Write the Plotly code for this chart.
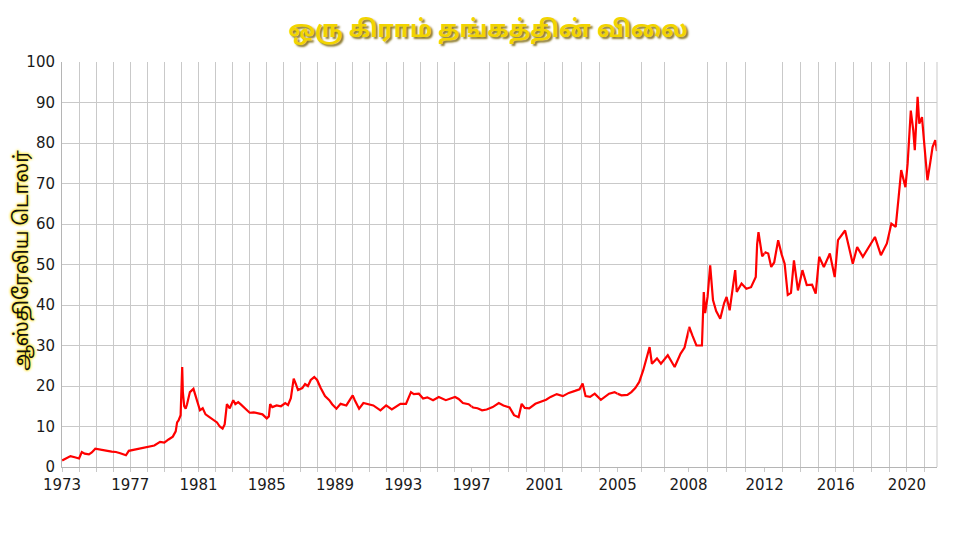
import plotly.graph_objects as go
import pandas as pd

# ---------------- data ----------------
dates = [
    "1973-01-05", "1973-04-01", "1973-07-01", "1973-10-01", "1974-01-01", "1974-03-01", "1974-05-01",
    "1974-08-01", "1974-10-01", "1974-12-15", "1975-03-01", "1975-06-01", "1975-09-01", "1975-12-01",
    "1976-03-01", "1976-06-01", "1976-08-01", "1976-10-01", "1976-12-01", "1977-03-01", "1977-07-01",
    "1977-11-01", "1978-03-01", "1978-06-01", "1978-10-01", "1979-01-01", "1979-04-01", "1979-07-01",
    "1979-09-01", "1979-10-01", "1979-11-01", "1979-12-15", "1980-01-18", "1980-02-01", "1980-03-01",
    "1980-04-01", "1980-05-01", "1980-06-01", "1980-07-01", "1980-09-15", "1980-10-15", "1980-12-01",
    "1981-02-01", "1981-04-01", "1981-06-01", "1981-08-01", "1981-10-01", "1981-12-01", "1982-02-01",
    "1982-04-01", "1982-06-01", "1982-07-15", "1982-09-01", "1982-11-01", "1983-01-15", "1983-03-01",
    "1983-05-01", "1983-07-01", "1983-10-01", "1984-01-01", "1984-04-01", "1984-07-01", "1984-10-01",
    "1985-01-01", "1985-02-15", "1985-03-15", "1985-05-01", "1985-08-01", "1985-11-01", "1986-02-01",
    "1986-04-01", "1986-06-01", "1986-08-01", "1986-09-15", "1986-11-01", "1987-02-01", "1987-04-01",
    "1987-06-01", "1987-08-01", "1987-10-15", "1987-12-15", "1988-03-01", "1988-06-01", "1988-09-01",
    "1988-11-01", "1989-02-01", "1989-05-01", "1989-09-01", "1990-01-15", "1990-03-01", "1990-06-01",
    "1990-09-01", "1990-12-01", "1991-04-01", "1991-09-01", "1992-01-01", "1992-05-01", "1992-11-01",
    "1993-03-01", "1993-06-15", "1993-08-15", "1993-12-01", "1994-03-01", "1994-06-01", "1994-10-01",
    "1995-02-01", "1995-07-01", "1996-01-15", "1996-04-01", "1996-07-01", "1996-11-01", "1997-02-01",
    "1997-05-01", "1997-08-01", "1997-11-01", "1998-03-01", "1998-07-01", "1998-10-01", "1999-02-01",
    "1999-05-01", "1999-08-01", "1999-10-01", "1999-12-01", "2000-03-01", "2000-07-01", "2000-11-01",
    "2001-02-01", "2001-05-01", "2001-09-01", "2002-01-01", "2002-05-01", "2002-09-01", "2002-12-01",
    "2003-02-01", "2003-04-01", "2003-07-01", "2003-10-01", "2004-02-01", "2004-05-01", "2004-07-15",
    "2004-11-01", "2005-03-01", "2005-06-01", "2005-08-01", "2005-10-01", "2005-12-01", "2006-02-01",
    "2006-04-01", "2006-05-10", "2006-06-15", "2006-09-01", "2006-11-01", "2007-02-15", "2007-06-01",
    "2007-09-01", "2007-11-01", "2008-01-15", "2008-03-15", "2008-06-01", "2008-09-15", "2008-10-20",
    "2008-11-15", "2009-01-01", "2009-02-20", "2009-04-15", "2009-06-15", "2009-09-01", "2009-11-15",
    "2010-01-01", "2010-03-01", "2010-06-15", "2010-07-15", "2010-10-15", "2011-01-15", "2011-04-15",
    "2011-07-15", "2011-08-10", "2011-09-05", "2011-11-15", "2012-01-15", "2012-03-15", "2012-05-15",
    "2012-07-15", "2012-10-05", "2012-12-15", "2013-02-15", "2013-04-20", "2013-06-25", "2013-08-25",
    "2013-11-15", "2014-02-15", "2014-05-15", "2014-09-01", "2014-11-15", "2015-01-25", "2015-05-01",
    "2015-09-01", "2015-12-10", "2016-02-15", "2016-07-10", "2016-12-15", "2017-03-15", "2017-07-10",
    "2017-11-15", "2018-03-15", "2018-07-15", "2018-11-15", "2019-02-15", "2019-05-15", "2019-07-15",
    "2019-09-05", "2019-12-01", "2020-01-15", "2020-03-20", "2020-05-10", "2020-06-10", "2020-08-07",
    "2020-09-10", "2020-11-05", "2020-12-15", "2021-02-25", "2021-04-20", "2021-06-10", "2021-08-05",
    "2021-09-08",
]
price = [
    1.6, 2.2, 2.7, 2.4, 2.1, 3.7, 3.3,
    3.1, 3.6, 4.5, 4.4, 4.2, 4.0, 3.8,
    3.7, 3.4, 3.2, 2.9, 4.0, 4.2, 4.4,
    4.7, 5.1, 5.3, 6.2, 6.0, 6.8, 7.5,
    8.8, 11.0, 11.5, 12.8, 24.7, 18.5, 15.0,
    14.4, 15.5, 17.5, 18.5, 19.3, 18.0, 16.5,
    14.0, 14.5, 13.0, 12.5, 12.0, 11.5, 11.0,
    10.0, 9.5, 10.5, 15.5, 14.5, 16.5, 15.5,
    16.0, 15.4, 14.5, 13.4, 13.5, 13.2, 13.0,
    12.0, 12.5, 15.5, 14.8, 15.2, 15.0, 15.8,
    15.3, 17.0, 21.8, 20.5, 19.0, 19.5, 20.5,
    20.0, 21.5, 22.2, 21.5, 19.5, 17.5, 16.5,
    15.5, 14.4, 15.6, 15.2, 17.7, 16.5, 14.4,
    15.8, 15.5, 15.2, 14.0, 15.2, 14.2, 15.6,
    15.6, 18.5, 18.0, 18.1, 16.9, 17.2, 16.5,
    17.3, 16.5, 17.3, 16.8, 15.8, 15.5, 14.7,
    14.5, 14.0, 14.2, 14.8, 15.8, 15.2, 14.7,
    12.8, 12.3, 15.6, 14.6, 14.5, 15.6, 16.2,
    16.6, 17.3, 18.0, 17.5, 18.3, 18.8, 19.2,
    20.6, 17.5, 17.3, 18.1, 16.6, 17.5, 18.1,
    18.5, 17.7, 17.8, 18.5, 19.5, 21.0, 23.9,
    27.2, 29.6, 25.5, 26.8, 25.5, 27.6, 24.7,
    28.0, 29.5, 34.6, 32.5, 30.0, 30.0, 43.2,
    38.0, 42.0, 49.8, 41.2, 38.5, 36.6, 40.5,
    42.0, 38.7, 48.6, 43.2, 45.3, 44.0, 44.4,
    46.9, 55.0, 58.0, 52.0, 53.0, 52.7, 49.4,
    50.5, 56.0, 52.5, 50.2, 42.5, 43.0, 51.0,
    43.6, 48.6, 44.9, 45.0, 42.8, 51.9, 49.4,
    52.7, 46.9, 56.0, 58.4, 50.2, 54.3, 51.9,
    54.3, 56.8, 52.3, 55.2, 60.1, 59.3, 66.7,
    73.3, 69.1, 74.9, 88.0, 83.1, 78.2, 91.4,
    84.8, 86.4, 80.7, 70.8, 74.9, 79.0, 80.7,
    78.0,
]

tick_years = list(range(1973, 2022))
label_years = [1973, 1977, 1981, 1985, 1989, 1993, 1997, 2001, 2005, 2008, 2012, 2016, 2020]

title_text = "ஒரு கிராம் தங்கத்தின் விலை"
y_title = "ஆஸ்திரேலிய டொலர்"

# the reference's time axis is stretched unevenly: one linear axis per segment
seg_bounds = ["1973-01-01", "1997-01-01", "2005-01-01", "2008-01-01", "2012-01-01", "2021-09-09"]
seg_domain = [0.0, 0.468, 0.635, 0.716, 0.803, 1.0]

# ---------------- figure ----------------
TAMIL = "Noto Sans Tamil, Noto Serif Tamil, Lohit Tamil, Latha, FreeSans, sans-serif"
NUM = "Verdana, DejaVu Sans, sans-serif"
GRID = "#c9c9c9"

d = pd.to_datetime(pd.Series(dates))
p = pd.Series(price)

fig = go.Figure()
layout_axes = {}
labeled = set()
for i in range(len(seg_bounds) - 1):
    b0, b1 = pd.Timestamp(seg_bounds[i]), pd.Timestamp(seg_bounds[i + 1])
    inside = (d >= b0) & (d <= b1)
    idx = list(inside[inside].index)
    lo, hi = idx[0], idx[-1]
    if lo > 0:
        lo -= 1
    if hi < len(d) - 1:
        hi += 1
    xname = "x" if i == 0 else f"x{i + 1}"
    fig.add_trace(go.Scatter(
        x=d.iloc[lo:hi + 1], y=p.iloc[lo:hi + 1],
        xaxis=xname, yaxis="y", mode="lines",
        line=dict(color="#ff0000", width=2.2), hoverinfo="skip", showlegend=False,
    ))
    tv, tt = [], []
    for yr in tick_years:
        t = pd.Timestamp(f"{yr}-01-01")
        if b0 <= t <= b1:
            tv.append(t)
            if yr in label_years and yr not in labeled:
                tt.append(str(yr))
                labeled.add(yr)
            else:
                tt.append("")
    key = "xaxis" if i == 0 else f"xaxis{i + 1}"
    layout_axes[key] = dict(
        domain=[seg_domain[i], seg_domain[i + 1]], anchor="y",
        type="date", range=[b0, b1],
        tickmode="array", tickvals=tv, ticktext=tt,
        showgrid=True, gridcolor=GRID, gridwidth=1,
        showline=True, linecolor="#b5b5b5", linewidth=1,
        ticks="outside", ticklen=4, tickcolor=GRID,
        tickfont=dict(family=NUM, size=15, color="#1a1a1a"),
        zeroline=False, fixedrange=True,
    )

fig.update_layout(
    width=960, height=540,
    margin=dict(l=54, r=16, t=54, b=81),
    paper_bgcolor="white", plot_bgcolor="white",
    title=dict(
        text=title_text, x=0.5, xanchor="center", y=0.962, yanchor="middle", yref="container",
        font=dict(family=TAMIL, size=23.5, color="#f2d400", weight="bold",
                  shadow="2px 2px 2px #8c7a2a"),
    ),
    yaxis=dict(
        range=[0, 100], dtick=10, anchor="x",
        showgrid=True, gridcolor=GRID, gridwidth=1,
        showline=True, linecolor="#b5b5b5", linewidth=1,
        ticks="", ticklabelstandoff=3,
        tickfont=dict(family=NUM, size=15, color="#1a1a1a"),
        zeroline=False, fixedrange=True,
    ),
    annotations=[dict(
        text=y_title, textangle=-90, xref="paper", yref="paper",
        x=-0.046, y=0.511, xanchor="center", yanchor="middle", showarrow=False,
        font=dict(family=TAMIL, size=19.5, color="#111111",
                  shadow="0px 0px 3px #ffe000, 0px 0px 3px #ffe000"),
    )],
    shapes=[dict(type="line", xref="paper", yref="paper", x0=1, x1=1, y0=0, y1=1,
                 line=dict(color=GRID, width=1))],
    showlegend=False,
    **layout_axes,
)

fig.write_html("out.html")
